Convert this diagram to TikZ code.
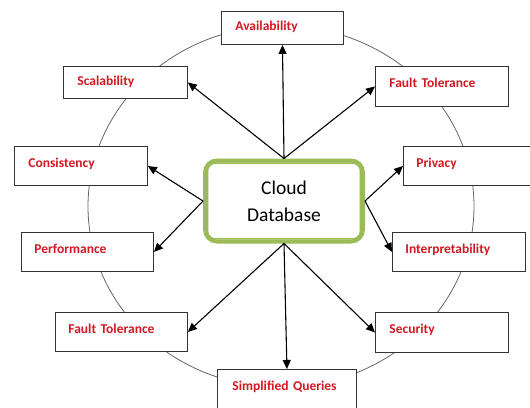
\documentclass[tikz,border=0pt]{standalone}
\usepackage{fontspec}
\setmainfont{Carlito}
\usetikzlibrary{arrows.meta}

\definecolor{dbgreen}{RGB}{155,187,89}
\definecolor{labelred}{RGB}{210,25,35}

\begin{document}
\begin{tikzpicture}[x=1pt, y=-1pt,
    attr/.style={draw=black!80, fill=white, line width=0.9pt, anchor=north west,
        align=left, inner xsep=14pt, inner ysep=0pt, text height=9pt, text depth=6pt,
        text=labelred, font=\fontsize{13.5}{16}\selectfont\bfseries},
    link/.style={-{Triangle[length=9pt,width=8pt]}, line width=1.1pt}]
    \useasboundingbox (0,0) rectangle (530,407);
    \clip (0,0) rectangle (530,407);

    % ring behind the boxes
    \draw[black!60, line width=0.8pt] (281,206.5) ellipse [x radius=193pt, y radius=180.6pt];

    % centre box, thick green with a thin inner line
    \node[draw=dbgreen, line width=4pt, fill=white, rounded corners=12pt,
          minimum width=158pt, minimum height=81pt, align=center,
          font=\fontsize{19.5}{27}\selectfont] (db) at (284,201) {Cloud\\Database};
    \draw[dbgreen, line width=1.4pt, rounded corners=8pt]
        ([shift={(4.6pt,4.6pt)}]db.south west) rectangle ([shift={(-4.6pt,-4.6pt)}]db.north east);

    % properties
    \node[attr, text width=94pt, minimum height=33pt, text depth=3pt] (avail) at (221,11) {Availability};
    \node[attr, text width=96pt, minimum height=32pt, text depth=2pt] (scal) at (63,66) {Scalability};
    \node[attr, text width=105pt, minimum height=40pt] (ftr) at (375,66) {Fault Tolerance};
    \node[attr, text width=105pt, minimum height=39pt] (cons) at (14,146) {Consistency};
    \node[attr, text width=105pt, minimum height=39pt, inner xsep=13pt] (priv) at (403,146) {Privacy};
    \node[attr, text width=106pt, minimum height=39pt, inner xsep=13pt] (perf) at (21,232) {Performance};
    \node[attr, text width=107pt, minimum height=39pt, inner xsep=13pt] (interp) at (392,232) {Interpretability};
    \node[attr, text width=106pt, minimum height=39pt, inner xsep=13pt] (ftl) at (55,312) {Fault Tolerance};
    \node[attr, text width=105pt, minimum height=40pt] (sec) at (375,312) {Security};
    \node[attr, text width=109pt, minimum height=39pt, inner xsep=15pt] (simp) at (217,369) {Simplified Queries};

    \draw[link] (db.north) -- (avail.south);
    \draw[link] (db.north) -- (scal.east);
    \draw[link] (db.north) -- (ftr.west);
    \draw[link] (db.west) -- (cons.east);
    \draw[link] (db.west) -- (perf.east);
    \draw[link] (db.east) -- (priv.west);
    \draw[link] (db.east) -- (interp.west);
    \draw[link] (db.south) -- (ftl.east);
    \draw[link] (db.south) -- (simp.north);
    \draw[link] (db.south) -- (sec.west);
\end{tikzpicture}
\end{document}
